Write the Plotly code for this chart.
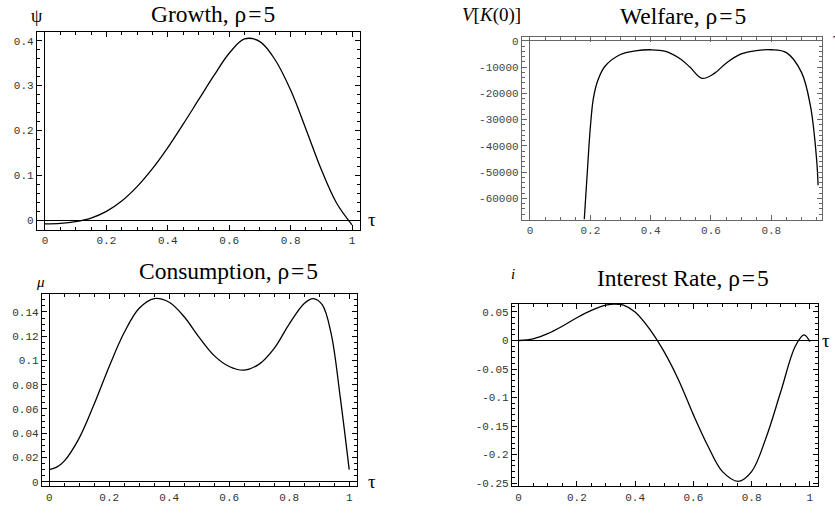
import plotly.graph_objects as go

# ---------------- data ----------------
tau_growth = [0, 0.05, 0.1, 0.15, 0.2, 0.25, 0.3, 0.35, 0.4, 0.45, 0.5, 0.55, 0.6,
              0.65, 0.7, 0.75, 0.8, 0.85, 0.9, 0.95, 1.0]
psi_growth = [-0.008, -0.007, -0.003, 0.005, 0.02, 0.043, 0.075, 0.115, 0.162, 0.214,
              0.268, 0.322, 0.372, 0.404, 0.398, 0.357, 0.29, 0.203, 0.113, 0.038, -0.01]

tau_welfare = [0.18, 0.19, 0.2, 0.21, 0.225, 0.25, 0.3, 0.35, 0.4, 0.45, 0.5, 0.53,
               0.57, 0.61, 0.65, 0.7, 0.75, 0.8, 0.85, 0.9, 0.93, 0.95, 0.955]
v_welfare = [-68000, -50000, -33000, -22000, -15000, -9500, -5200, -3800, -3400, -4000,
             -7000, -10000, -14300, -12500, -8500, -5000, -3700, -3400, -4500, -12000,
             -25000, -45000, -55000]

tau_cons = [0, 0.025, 0.05, 0.1, 0.15, 0.2, 0.25, 0.3, 0.35, 0.4, 0.45, 0.5, 0.55, 0.6,
            0.65, 0.7, 0.75, 0.8, 0.85, 0.88, 0.91, 0.94, 0.97, 1.0]
mu_cons = [0.01, 0.012, 0.017, 0.036, 0.064, 0.095, 0.123, 0.143, 0.151, 0.148, 0.136,
           0.119, 0.104, 0.095, 0.092, 0.097, 0.11, 0.13, 0.147, 0.151, 0.146, 0.122,
           0.07, 0.01]

tau_rate = [0, 0.05, 0.1, 0.15, 0.2, 0.25, 0.3, 0.33, 0.36, 0.4, 0.45, 0.5, 0.55, 0.6,
            0.65, 0.7, 0.755, 0.8, 0.85, 0.9, 0.95, 0.98, 1.0]
i_rate = [0, 0.003, 0.012, 0.025, 0.04, 0.053, 0.062, 0.064, 0.062, 0.05, 0.02, -0.02,
          -0.07, -0.13, -0.185, -0.23, -0.247, -0.23, -0.17, -0.09, -0.01, 0.01, -0.002]

x_ticks = [0, 0.2, 0.4, 0.6, 0.8, 1]
x_ticktext = ["0", "0.2", "0.4", "0.6", "0.8", "1"]
growth_yticks = [0, 0.1, 0.2, 0.3, 0.4]
growth_yticktext = ["0", "0.1", "0.2", "0.3", "0.4"]
welfare_xticks = [0, 0.2, 0.4, 0.6, 0.8]
welfare_xticktext = ["0", "0.2", "0.4", "0.6", "0.8"]
welfare_yticks = [0, -10000, -20000, -30000, -40000, -50000, -60000]
welfare_yticktext = ["0", "-10000", "-20000", "-30000", "-40000", "-50000", "-60000"]
cons_yticks = [0, 0.02, 0.04, 0.06, 0.08, 0.1, 0.12, 0.14]
cons_yticktext = ["0", "0.02", "0.04", "0.06", "0.08", "0.1", "0.12", "0.14"]
rate_yticks = [0.05, 0, -0.05, -0.1, -0.15, -0.2, -0.25]
rate_yticktext = ["0.05", "0", "-0.05", "-0.1", "-0.15", "-0.2", "-0.25"]

# ---------------- figure ----------------
W, H = 835, 513
fig = go.Figure()


def px_x(p):
    return p / W


def px_y(p):
    return 1 - p / H


tick_font = dict(family="Liberation Mono, Courier New, monospace", size=11)

panels = [
    dict(n="", xd=(37, 360), yd=(31, 231), xr=(-0.026, 1.026), yr=(-0.021, 0.42),
         x=tau_growth, y=psi_growth, xt=(x_ticks, x_ticktext), yt=(growth_yticks, growth_yticktext),
         xminor=0.05, yminor=0.02, col="#000", tcol="#333"),
    dict(n="2", xd=(522, 822), yd=(36, 221), xr=(-0.0265, 0.968), yr=(-68200, 1600),
         x=tau_welfare, y=v_welfare, xt=(welfare_xticks, welfare_xticktext),
         yt=(welfare_yticks, welfare_yticktext), xminor=0.05, yminor=2000, col="#666", tcol="#444"),
    dict(n="3", xd=(42, 357), yd=(296, 490), xr=(-0.024, 1.026), yr=(-0.0037, 0.1547),
         x=tau_cons, y=mu_cons, xt=(x_ticks, x_ticktext), yt=(cons_yticks, cons_yticktext),
         xminor=0.05, yminor=0.005, col="#000", tcol="#333"),
    dict(n="4", xd=(512, 818), yd=(306, 490), xr=(-0.0226, 1.028), yr=(-0.2556, 0.064),
         x=tau_rate, y=i_rate, xt=(x_ticks, x_ticktext), yt=(rate_yticks, rate_yticktext),
         xminor=0.05, yminor=0.01, col="#000", tcol="#333"),
]

layout = {}
for p in panels:
    n = p["n"]
    fig.add_trace(go.Scatter(x=p["x"], y=p["y"], mode="lines",
                             line=dict(color="black", width=1.3, shape="spline", smoothing=1.0),
                             xaxis="x" + n, yaxis="y" + n, showlegend=False, hoverinfo="skip"))
    tf = dict(tick_font, color=p["tcol"])
    common = dict(showgrid=False, zeroline=True, zerolinecolor=p["col"], zerolinewidth=1.3,
                  showline=True, linecolor=p["col"], linewidth=1.3, mirror="allticks",
                  ticks="inside", ticklen=5, tickcolor=p["col"], tickwidth=1, tickfont=tf,
                  fixedrange=True, layer="above traces")
    layout["xaxis" + n] = dict(
        domain=[px_x(p["xd"][0]), px_x(p["xd"][1])], range=list(p["xr"]), anchor="y" + n,
        tickvals=p["xt"][0], ticktext=p["xt"][1],
        minor=dict(ticks="inside", ticklen=3, dtick=p["xminor"], tick0=0,
                   tickcolor=p["col"], tickwidth=1, showgrid=False),
        **common)
    layout["yaxis" + n] = dict(
        domain=[px_y(p["yd"][1]), px_y(p["yd"][0])], range=list(p["yr"]), anchor="x" + n,
        tickvals=p["yt"][0], ticktext=p["yt"][1],
        minor=dict(ticks="inside", ticklen=3, dtick=p["yminor"], tick0=0,
                   tickcolor=p["col"], tickwidth=1, showgrid=False),
        **common)

serif = "Liberation Serif, Times New Roman, serif"
HS = "\u200a"
annotations = [
    dict(text="Growth, ρ" + HS + "=" + HS + "5", x=213, y=13, size=23.5),
    dict(text="Welfare, ρ" + HS + "=" + HS + "5", x=683, y=15, size=23.5),
    dict(text="Consumption, ρ" + HS + "=" + HS + "5", x=228, y=273, size=23.5),
    dict(text="Interest Rate, ρ" + HS + "=" + HS + "5", x=683, y=280, size=23.5),
    dict(text="ψ", x=37, y=15, size=18),
    dict(text="<i>V</i>[<i>K</i>(0)]", x=491, y=14, size=19),
    dict(text="<i>μ</i>", x=40, y=284, size=15),
    dict(text="<i>i</i>", x=513, y=276, size=15),
    dict(text="τ", x=372, y=221, size=19),
    dict(text="τ", x=372, y=485, size=19),
    dict(text="τ", x=826, y=343, size=19),
    dict(text="τ", x=837, y=38, size=19),
]
layout["annotations"] = [
    dict(text=a["text"], x=px_x(a["x"]), y=px_y(a["y"]), xref="paper", yref="paper",
         xanchor="center", yanchor="middle", showarrow=False,
         font=dict(family=serif, size=a["size"], color="black"))
    for a in annotations
]

fig.update_layout(
    width=W, height=H, margin=dict(l=0, r=0, t=0, b=0),
    paper_bgcolor="white", plot_bgcolor="white", showlegend=False,
    **layout,
)

fig.write_html("out.html", config={"displayModeBar": False},
               post_script="document.body.style.margin='0';document.body.style.overflow='hidden';")
